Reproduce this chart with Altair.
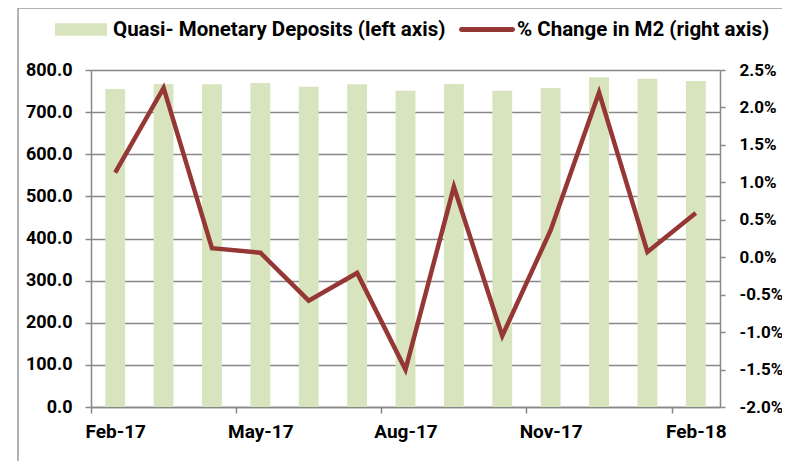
import altair as alt
import pandas as pd

months = ["Feb-17", "Mar-17", "Apr-17", "May-17", "Jun-17", "Jul-17", "Aug-17",
          "Sep-17", "Oct-17", "Nov-17", "Dec-17", "Jan-18", "Feb-18"]
deposits = [755, 767, 766, 769, 760, 766, 751, 767, 751, 757, 783, 779, 774]
pct_m2 = [1.13, 2.26, 0.12, 0.06, -0.58, -0.21, -1.50, 0.94, -1.05, 0.36, 2.20, 0.07, 0.59]
left_ticks = [0, 100, 200, 300, 400, 500, 600, 700, 800]
right_ticks = [-2.0, -1.5, -1.0, -0.5, 0.0, 0.5, 1.0, 1.5, 2.0, 2.5]
x_labels = ["Feb-17", "May-17", "Aug-17", "Nov-17", "Feb-18"]

bar_name = "Quasi- Monetary Deposits (left axis)"
line_name = "% Change in M2 (right axis)"

df = pd.DataFrame({
    "month": months,
    "deposits": deposits,
    "pct": pct_m2,
    "s1": [bar_name] * len(months),
    "s2": [line_name] * len(months),
})

FONT = "Roboto"
GRID = "#888888"
BAR = "#d7e4bd"
LINE = "#953735"

W, H = 629, 337
half_step = W / len(months) / 2

x_enc = alt.X(
    "month:N", sort=months, title=None,
    scale=alt.Scale(paddingInner=0, paddingOuter=0),
    axis=alt.Axis(values=x_labels, labelAngle=0, grid=False,
                  tickOffset=-half_step, labelOffset=half_step,
                  labelFont=FONT, labelFontWeight="bold", labelFontSize=19,
                  labelColor="black", labelPadding=9, tickSize=6,
                  tickColor=GRID, domainColor=GRID, domainWidth=1.5, tickWidth=1.5),
)

bars = alt.Chart(df).mark_bar(color=BAR, width=alt.RelativeBandSize(0.41)).encode(
    x=x_enc,
    y=alt.Y("deposits:Q", title=None,
            scale=alt.Scale(domain=[0, 800], nice=False),
            axis=alt.Axis(values=left_ticks, format=".1f", grid=True,
                          gridColor=GRID, gridWidth=1.5, domainColor=GRID, domainWidth=1.5,
                          tickColor=GRID, tickWidth=1.5, tickSize=6,
                          labelFont=FONT, labelFontWeight="bold", labelFontSize=18,
                          labelColor="black", labelPadding=13)),
    fill=alt.Fill("s1:N", title=None,
                  scale=alt.Scale(domain=[bar_name], range=[BAR]),
                  legend=alt.Legend(orient="none", legendX=-36, legendY=-66.5,
                                    symbolType="M-1,-0.24H1V0.24H-1Z", symbolSize=2704,
                                    symbolStrokeWidth=0,
                                    labelFont=FONT, labelFontWeight="bold", labelFontSize=20.5,
                                    labelColor="black", labelOffset=6, labelLimit=500)),
)

line = alt.Chart(df).mark_line(color=LINE, strokeWidth=4.5).encode(
    x=alt.X("month:N", sort=months),
    y=alt.Y("pct:Q", title=None,
            scale=alt.Scale(domain=[-2.0, 2.5], nice=False),
            axis=alt.Axis(orient="right", values=right_ticks, grid=False,
                          labelExpr="(datum.value < 0 ? '-' : '') + format(abs(datum.value), '.1f') + '%'",
                          domainColor=GRID, domainWidth=1.5,
                          tickColor=GRID, tickWidth=1.5, tickSize=5,
                          labelFont=FONT, labelFontWeight="bold", labelFontSize=17,
                          labelColor="black", labelPadding=14)),
    stroke=alt.Stroke("s2:N", title=None,
                      scale=alt.Scale(domain=[line_name], range=[LINE]),
                      legend=alt.Legend(orient="none", legendX=368, legendY=-68.5,
                                        symbolType="M-0.91,-0.09H0.91A0.09,0.09 0 0 1 0.91,0.09H-0.91A0.09,0.09 0 0 1 -0.91,-0.09Z",
                                        symbolSize=3136,
                                        symbolFillColor=LINE, symbolStrokeWidth=0,
                                        labelFont=FONT, labelFontWeight="bold", labelFontSize=20.5,
                                        labelColor="black", labelOffset=2, labelLimit=500)),
)

frame_df = pd.DataFrame({"k": [0]})
frame_left = alt.Chart(frame_df).mark_rule(color="#9a9a9a", strokeWidth=1.5).encode(
    x=alt.value(-73), y=alt.value(-62), y2=alt.value(400))
frame_top = alt.Chart(frame_df).mark_rule(color="#9a9a9a", strokeWidth=1.5).encode(
    x=alt.value(-73), x2=alt.value(700), y=alt.value(-62))

chart = alt.layer(bars, line, frame_left, frame_top).resolve_scale(
    y="independent", fill="independent", stroke="independent"
).properties(
    width=W, height=H,
    padding={"left": 83, "top": 62, "right": 62, "bottom": 54},
    autosize=alt.AutoSizeParams(type="none"),
).configure_view(stroke=None).configure(background="white")

chart.save("out.html", embed_options={"renderer": "svg", "actions": False})
